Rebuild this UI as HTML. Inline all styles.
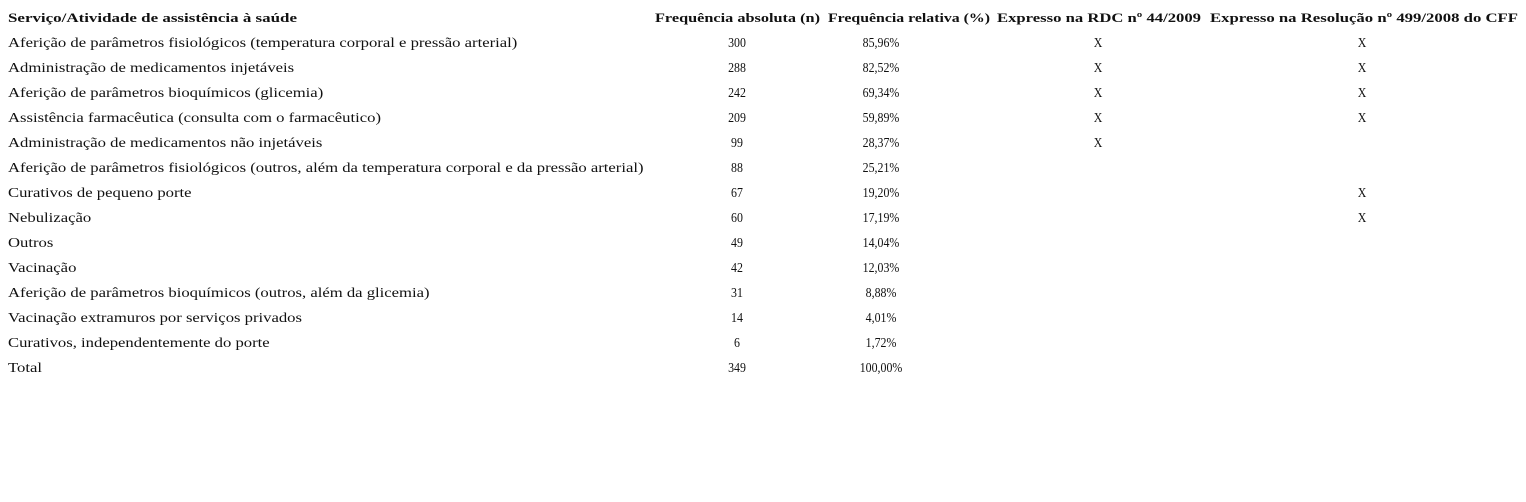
<!DOCTYPE html>
<html><head><meta charset="utf-8"><style>
html,body{margin:0;padding:0;background:#fff;width:1526px;height:502px;overflow:hidden}
svg text{font-family:"Liberation Serif",serif;font-size:14px;fill:#111}
.h{font-weight:bold;font-size:13px}
</style></head><body>
<svg width="1526" height="502">
<g id="hdr"></g><g id="body"></g>
</svg>
<script>
const services=["Aferição de parâmetros fisiológicos (temperatura corporal e pressão arterial)","Administração de medicamentos injetáveis","Aferição de parâmetros bioquímicos (glicemia)","Assistência farmacêutica (consulta com o farmacêutico)","Administração de medicamentos não injetáveis","Aferição de parâmetros fisiológicos (outros, além da temperatura corporal e da pressão arterial)","Curativos de pequeno porte","Nebulização","Outros","Vacinação","Aferição de parâmetros bioquímicos (outros, além da glicemia)","Vacinação extramuros por serviços privados","Curativos, independentemente do porte","Total"];
const absFreq=["300","288","242","209","99","88","67","60","49","42","31","14","6","349"];
const relFreq=["85,96%","82,52%","69,34%","59,89%","28,37%","25,21%","19,20%","17,19%","14,04%","12,03%","8,88%","4,01%","1,72%","100,00%"];
const rdc=["X","X","X","X","X","","","","","","","","",""];
const cff=["X","X","X","X","","","X","X","","","","","",""];
const headers=["Serviço/Atividade de assistência à saúde","Frequência absoluta (n)","Frequência relativa (%)","Expresso na RDC nº 44/2009","Expresso na Resolução nº 499/2008 do CFF"];
const NS="http://www.w3.org/2000/svg";
const hx=[[8,289],[655,165],[828,162],[997,204],[1210,308]];
const hg=document.getElementById('hdr');
headers.forEach((h,i)=>{
 const t=document.createElementNS(NS,'text');
 t.setAttribute('x',hx[i][0]);t.setAttribute('y',22);
 t.setAttribute('textLength',hx[i][1]);t.setAttribute('lengthAdjust','spacingAndGlyphs');
 t.setAttribute('class','h');t.textContent=h;
 
 
 hg.appendChild(t);
});
const bg=document.getElementById('body');
const cx=[737,881,1098,1362];
services.forEach((s,r)=>{
 const y=47+r*25;
 const cells=[s,absFreq[r],relFreq[r],rdc[r],cff[r]];
 cells.forEach((c,i)=>{
  if(!c)return;
  const t=document.createElementNS(NS,'text');
  t.setAttribute('y',y);
  t.setAttribute('x',0);
  const x=i===0?8:cx[i-1];
  const sx=i===0?1.19:0.85;
  if(i>0)t.setAttribute('text-anchor','middle');
  t.setAttribute('transform','translate('+x+',0) scale('+sx+',1)');
  t.textContent=c;
  
  
  bg.appendChild(t);
 });
});
</script>
</body></html>
